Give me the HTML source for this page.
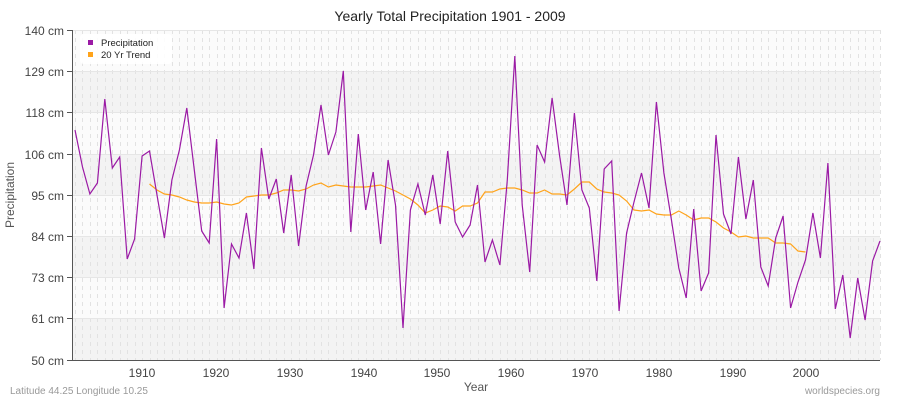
<!DOCTYPE html>
<html><head><meta charset="utf-8"><style>
body{margin:0;background:#fff;width:900px;height:400px;overflow:hidden;font-family:"Liberation Sans",sans-serif}
</style></head><body>
<svg id="s" width="900" height="400" xmlns="http://www.w3.org/2000/svg" font-family="Liberation Sans, sans-serif">
<rect x="0" y="0" width="900" height="400" fill="#fff"/>
<rect x="72" y="30" width="808" height="41" fill="#fbfbfb"/>
<rect x="72" y="71" width="808" height="41" fill="#f3f3f3"/>
<rect x="72" y="112" width="808" height="42" fill="#fbfbfb"/>
<rect x="72" y="154" width="808" height="41" fill="#f3f3f3"/>
<rect x="72" y="195" width="808" height="41" fill="#fbfbfb"/>
<rect x="72" y="236" width="808" height="41" fill="#f3f3f3"/>
<rect x="72" y="277" width="808" height="41" fill="#fbfbfb"/>
<rect x="72" y="318" width="808" height="42" fill="#f3f3f3"/>
<g id="vg" stroke="#e2e2e2" stroke-dasharray="4,4" stroke-width="1"></g>
<g stroke="#e6e6e6" stroke-width="1">
<line x1="72" y1="30.5" x2="880" y2="30.5"/><line x1="72" y1="71.5" x2="880" y2="71.5"/><line x1="72" y1="112.5" x2="880" y2="112.5"/><line x1="72" y1="154.5" x2="880" y2="154.5"/><line x1="72" y1="195.5" x2="880" y2="195.5"/><line x1="72" y1="236.5" x2="880" y2="236.5"/><line x1="72" y1="277.5" x2="880" y2="277.5"/><line x1="72" y1="318.5" x2="880" y2="318.5"/>
</g>
<line x1="72.5" y1="30" x2="72.5" y2="360" stroke="#555"/>
<line x1="72" y1="360.5" x2="880" y2="360.5" stroke="#555"/>
<g stroke="#555"><line x1="67" y1="30.5" x2="72" y2="30.5"/><line x1="67" y1="71.5" x2="72" y2="71.5"/><line x1="67" y1="112.5" x2="72" y2="112.5"/><line x1="67" y1="154.5" x2="72" y2="154.5"/><line x1="67" y1="195.5" x2="72" y2="195.5"/><line x1="67" y1="236.5" x2="72" y2="236.5"/><line x1="67" y1="277.5" x2="72" y2="277.5"/><line x1="67" y1="318.5" x2="72" y2="318.5"/><line x1="67" y1="360.5" x2="72" y2="360.5"/></g>
<g font-size="12" fill="#444" text-anchor="end">
<text x="64" y="35">140 cm</text><text x="64" y="76">129 cm</text><text x="64" y="117">118 cm</text><text x="64" y="159">106 cm</text><text x="64" y="200">95 cm</text><text x="64" y="241">84 cm</text><text x="64" y="282">73 cm</text><text x="64" y="323">61 cm</text><text x="64" y="365">50 cm</text>
</g>
<g font-size="12" fill="#444" text-anchor="middle">
<text x="142" y="377">1910</text><text x="216" y="377">1920</text><text x="290" y="377">1930</text><text x="364" y="377">1940</text><text x="437" y="377">1950</text><text x="511" y="377">1960</text><text x="585" y="377">1970</text><text x="659" y="377">1980</text><text x="733" y="377">1990</text><text x="806" y="377">2000</text>
</g>
<text x="450" y="21" font-size="14" fill="#222" text-anchor="middle">Yearly Total Precipitation 1901 - 2009</text>
<text x="476" y="391" font-size="12" fill="#555" text-anchor="middle">Year</text>
<text x="14" y="195" font-size="12" fill="#555" text-anchor="middle" transform="rotate(-90 14 195)">Precipitation</text>
<text x="10" y="394" font-size="10" fill="#999">Latitude 44.25 Longitude 10.25</text>
<text x="880" y="394" font-size="10" fill="#999" text-anchor="end">worldspecies.org</text>
<polyline id="tr" fill="none" stroke="#ffa31a" stroke-width="1.2"/>
<polyline id="pr" fill="none" stroke="#9b1aa5" stroke-width="1.2"/>
<rect x="80" y="34" width="92" height="30" rx="4" fill="#fff" opacity="0.9"/>
<rect x="88" y="40" width="5" height="5" fill="#9b1aa5"/>
<rect x="88" y="52" width="5" height="5" fill="#ffa31a"/>
<text x="101" y="46" font-size="9.5" fill="#222">Precipitation</text>
<text x="101" y="58" font-size="9.5" fill="#222">20 Yr Trend</text>
</svg>
<script>
var p=[130,167,194,183,99,168,157,259,239,156,151,195,238,180,150,108,170,231,243,139,308,244,258,213,269,148,199,179,233,175,246,186,155,105,155,132,71,232,134,210,172,244,160,205,328,210,184,215,175,224,151,222,237,225,185,262,240,265,180,56,205,272,145,162,98,155,205,113,190,208,281,169,161,311,233,202,173,208,102,173,219,268,298,209,291,273,135,214,234,157,219,180,267,286,238,216,308,282,260,213,258,163,309,275,338,278,320,261,241];
var t=[184,190,194,195,197,200,202,203,203,202,204,205,203,197,196,195,195,193,190,190,191,189,185,183,187,185,186,187,187,187,186,185,188,191,195,199,205,213,210,206,207,211,206,206,203,192,192,189,188,188,190,193,193,190,194,194,195,189,182,182,189,192,193,195,201,210,211,210,214,215,215,211,215,220,218,218,222,228,232,237,236,238,238,238,243,243,244,251,252];
function X(i){return 75+i*7.454;}
var s=p.map(function(v,i){return X(i).toFixed(1)+","+v}).join(" ");
document.getElementById("pr").setAttribute("points",s);
var u=t.map(function(v,i){return X(i+10).toFixed(1)+","+v}).join(" ");
document.getElementById("tr").setAttribute("points",u);
var g=document.getElementById("vg"),h="";
for(var i=0;i<109;i++){var x=Math.round(X(i))+0.5;h+='<line x1="'+x+'" y1="30" x2="'+x+'" y2="360"/>';}
g.innerHTML=h;
</script>
</body></html>
